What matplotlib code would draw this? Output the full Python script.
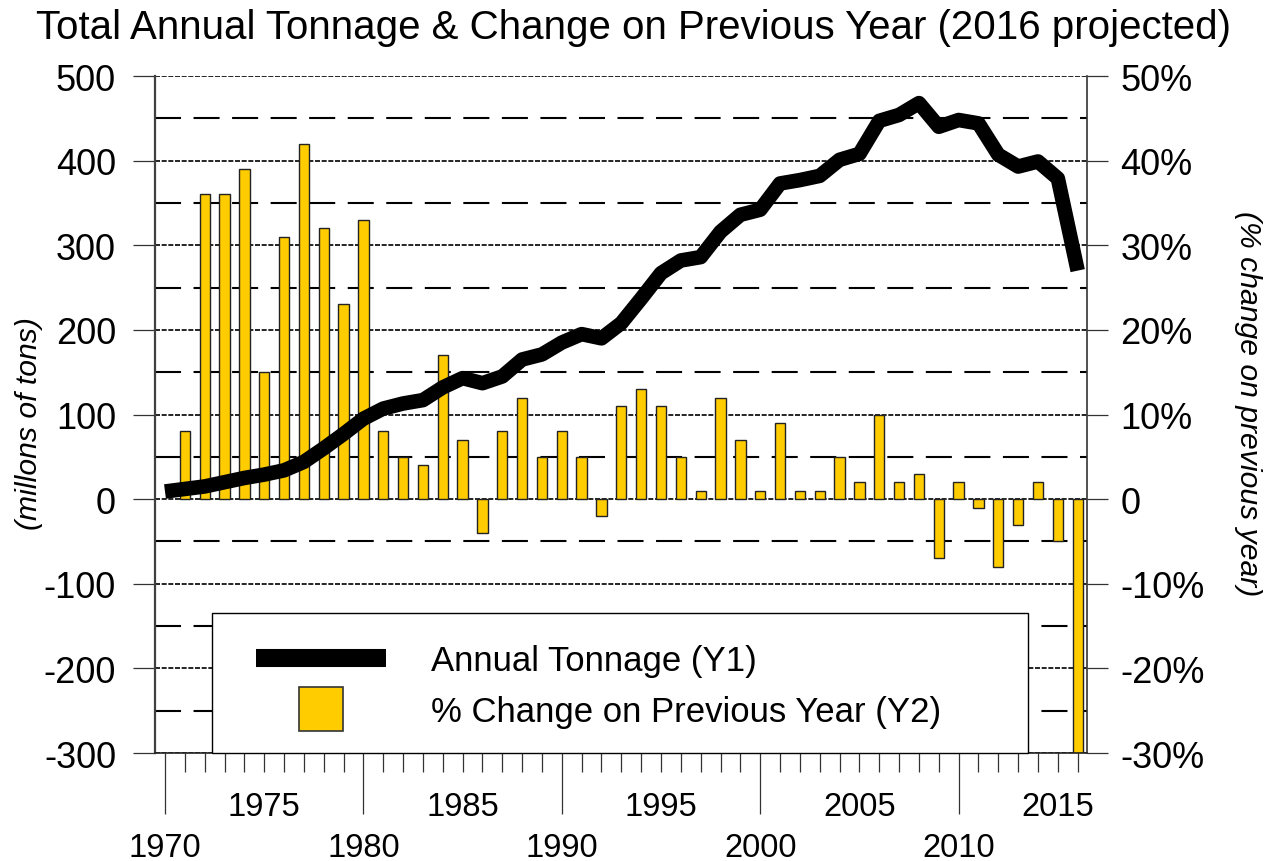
import matplotlib
matplotlib.use("Agg")
import matplotlib.pyplot as plt
from matplotlib.lines import Line2D
from matplotlib.patches import Rectangle
from matplotlib.ticker import FixedLocator, FixedFormatter, FuncFormatter

plt.rcParams['font.family'] = ['Liberation Sans', 'DejaVu Sans']
plt.rcParams['axes.unicode_minus'] = False

# ---------------- data ----------------
years = list(range(1970, 2017))
tonnage = [9, 12, 15, 20, 25, 29, 34, 44, 60, 77,
           95, 107, 113, 117, 132, 143, 137, 145, 165, 171,
           185, 195, 190, 208, 237, 267, 282, 286, 316, 336,
           342, 373, 377, 382, 401, 408, 447, 454, 468, 440,
           448, 444, 407, 393, 399, 379, 270]

pct_years = list(range(1971, 2017))
pct_change = [8, 36, 36, 39, 15, 31, 42, 32, 23, 33,
              8, 5, 4, 17, 7, -4, 8, 12, 5, 8,
              5, -2, 11, 13, 11, 5, 1, 12, 7, 1,
              9, 1, 1, 5, 2, 10, 2, 3, -7, 2,
              -1, -8, -3, 2, -5, -30]

decade_ticks = [1970, 1980, 1990, 2000, 2010]
decade_labels = ['1970', '1980', '1990', '2000', '2010']
half_ticks = [1975, 1985, 1995, 2005, 2015]
half_labels = ['1975', '1985', '1995', '2005', '2015']

left_ticks = [-300, -200, -100, 0, 100, 200, 300, 400, 500]
right_ticks = [-30, -20, -10, 0, 10, 20, 30, 40, 50]
right_minor = [-25, -15, -5, 5, 15, 25, 35, 45]

title = "Total Annual Tonnage & Change on Previous Year (2016 projected)"
ylabel_left = "(millons of tons)"
ylabel_right = "(% change on previous year)"
legend_labels = ["Annual Tonnage (Y1)", "% Change on Previous Year (Y2)"]

BAR_COLOR = '#FFCC00'

# ---------------- figure ----------------
W, H = 1265, 862
fig = plt.figure(figsize=(W / 100, H / 100), dpi=100, facecolor='white')
ax1 = fig.add_axes([155 / W, 1 - 754 / H, 932 / W, 677 / H])
ax2 = ax1.twinx()

ax1.set_zorder(2)
ax2.set_zorder(1)
ax1.patch.set_visible(False)

ax1.set_xlim(1969.496, 2016.47)
ax1.set_ylim(-300, 500)
ax2.set_ylim(-30, 50)

# bars (right axis)
ax2.bar(pct_years, pct_change, width=0.52, color=BAR_COLOR,
        edgecolor='#222222', linewidth=1.0, zorder=2)

# line (left axis)
ax1.plot(years, tonnage, color='black', lw=10.5,
         solid_joinstyle='round', solid_capstyle='butt', zorder=3)

# gridlines on right axis (behind bars)
ax2.set_axisbelow(True)
ax2.yaxis.set_major_locator(FixedLocator(right_ticks))
ax2.yaxis.set_minor_locator(FixedLocator(right_minor))
ax2.grid(which='major', axis='y', color='#000000', lw=1.2, ls=(0, (3, 1)))
ax2.grid(which='minor', axis='y', color='black', lw=1.5, ls=(0, (12.5, 6)))
ax2.yaxis.set_major_formatter(FuncFormatter(lambda v, p: "0" if v == 0 else f"{v:.0f}%"))
ax2.tick_params(axis='y', which='major', length=15, width=0.9, pad=9,
                labelsize=26, color='#333333')
ax2.tick_params(axis='y', which='minor', length=0)

# left axis ticks
ax1.set_yticks(left_ticks)
ax1.tick_params(axis='y', which='major', length=16, width=0.9, pad=12,
                labelsize=26, color='#333333')

# x axis ticks
minor_years = [y for y in range(1971, 2017) if y not in decade_ticks]
minor_labels = [half_labels[half_ticks.index(y)] if y in half_ticks else '' for y in minor_years]
ax1.xaxis.set_major_locator(FixedLocator(decade_ticks))
ax1.xaxis.set_major_formatter(FixedFormatter(decade_labels))
ax1.xaxis.set_minor_locator(FixedLocator(minor_years))
ax1.xaxis.set_minor_formatter(FixedFormatter(minor_labels))
ax1.tick_params(axis='x', which='major', length=44, width=0.9, pad=13,
                labelsize=23.5, color='#333333')
ax1.tick_params(axis='x', which='minor', length=13.7, width=0.9, pad=14,
                labelsize=23.5, color='#333333')

# spines
for s in ['top', 'right']:
    ax1.spines[s].set_visible(False)
ax1.spines['left'].set_color('#404040')
ax1.spines['left'].set_linewidth(1.6)
ax1.spines['bottom'].set_color('#222222')
ax1.spines['bottom'].set_linewidth(1.2)
for s in ['top', 'left', 'bottom']:
    ax2.spines[s].set_visible(False)
ax2.spines['right'].set_color('#333333')
ax2.spines['right'].set_linewidth(1.2)

# axis labels
ax1.set_ylabel(ylabel_left, fontsize=21.7, style='italic', va='center')
ax1.yaxis.set_label_coords(-0.1352, 0.4874)
ax2.set_ylabel(ylabel_right, fontsize=21.7, style='italic', rotation=-90, va='center')
ax2.yaxis.set_label_coords(1.1727, 0.517)

# title
fig.text(634 / W, 1 - 39.3 / H, title, ha='center', va='baseline', fontsize=29)

# legend
frame = Rectangle((0.0612, 0.0), 0.8755, 0.2068, transform=ax1.transAxes,
                  facecolor='white', edgecolor='black', lw=1.0, zorder=4, clip_on=False)
ax1.add_patch(frame)
handles = [
    Line2D([0], [0], color='black', lw=13, solid_capstyle='butt'),
    Line2D([0], [0], ls='none', marker='s', markersize=31.7,
           markerfacecolor=BAR_COLOR, markeredgecolor='#333333', markeredgewidth=1.2),
]
leg = ax1.legend(handles, legend_labels, loc='center left',
                 bbox_to_anchor=(0.1084, 0.099), frameon=False, borderpad=0,
                 borderaxespad=0, handlelength=3.75, handletextpad=1.3,
                 labelspacing=0.52, fontsize=25, numpoints=1)
leg.set_zorder(5)

fig.savefig('out.png', dpi=100, facecolor='white')
